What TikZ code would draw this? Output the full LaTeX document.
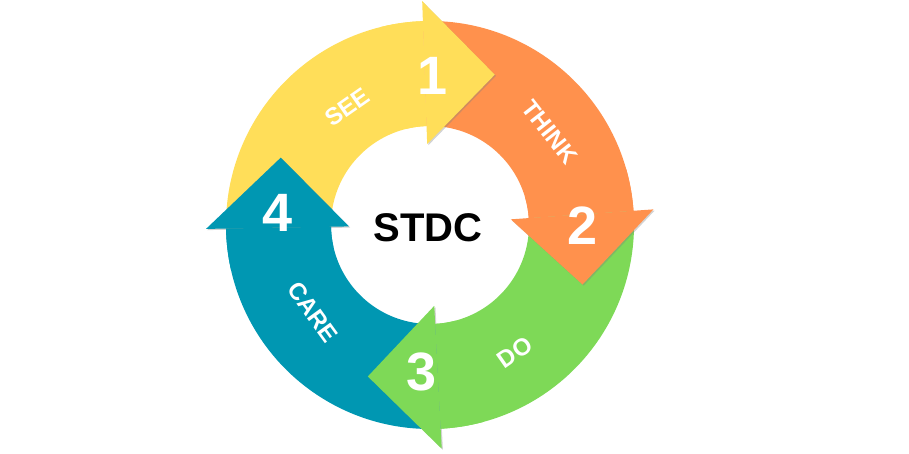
\documentclass[tikz,border=0pt]{standalone}
\usepackage{fontspec}
\setmainfont{Liberation Sans}
\usetikzlibrary{calc,shadows}

\definecolor{seeyellow}{HTML}{FFDE59}
\definecolor{thinkorange}{HTML}{FF914D}
\definecolor{dogreen}{HTML}{7ED957}
\definecolor{careteal}{HTML}{0097B2}

\tikzset{
  arrowhead/.style={drop shadow={shadow xshift=1.2pt,shadow yshift=-1.2pt,opacity=.35}},
  stage/.style={text=white,font=\bfseries\fontsize{24}{24}\selectfont},
  stepnum/.style={text=white,font=\bfseries\fontsize{54}{54}\selectfont},
}

\begin{document}
\begin{tikzpicture}[x=1pt,y=1pt]
  \useasboundingbox (-430,-229) rectangle (479,225);
  % ring pieces first, heads on top
  \foreach \s/\e/\c in {181/92/seeyellow,92/4/thinkorange,4/-87/dogreen,273/181/careteal}
    \fill[\c] (\s:204) arc[start angle=\s,end angle=\e,radius=204]
      -- (\e:99) arc[start angle=\e,end angle=\s,radius=99] -- cycle;
  \foreach \e/\c in {92/seeyellow,4/thinkorange,-87/dogreen,181/careteal}{
    \fill[\c,arrowhead] (\e:224) -- ($(\e:148)+(\e-90:70)$) -- (\e:81) -- cycle;
    % hide the shadow where the head meets its own piece
    \fill[\c] (\e+12:204) arc[start angle=\e+12,end angle=\e,radius=204]
      -- (\e:99) arc[start angle=\e,end angle=\e+12,radius=99] -- cycle;
  }

  \node[stage,rotate=35] (see) at (-83,118) {SEE};
  \node[stage,rotate=-52] (think) at (120,93) {THINK};
  \node[stage,rotate=35] (do) at (85,-127) {DO};
  \node[stage,rotate=-54] (care) at (-117,-87) {CARE};

  \node[stepnum] (one) at (3,149) {1};
  \node[stepnum] (two) at (153,-1) {2};
  \node[stepnum] (three) at (-8,-147) {3};
  \node[stepnum] (four) at (-152,12) {4};

  \node[font=\bfseries\fontsize{40}{40}\selectfont] (stdc) at (-2,-3) {STDC};
\end{tikzpicture}
\end{document}
